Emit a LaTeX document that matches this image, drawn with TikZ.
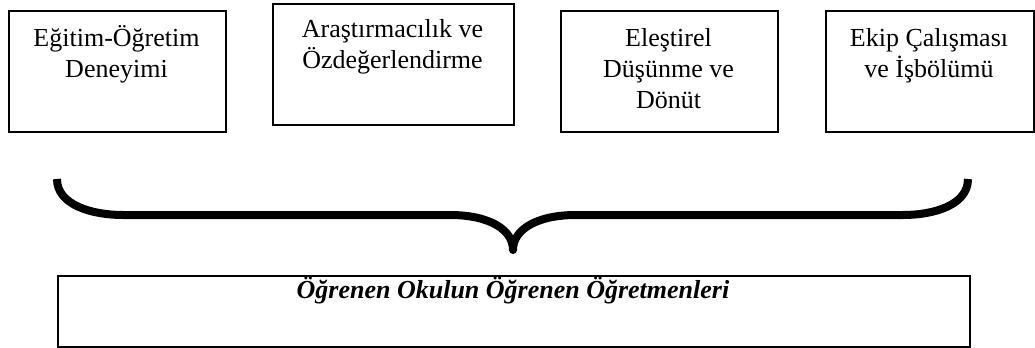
\documentclass[tikz,border=0pt]{standalone}
\usepackage{fontspec}
\setmainfont{Liberation Serif}
\begin{document}
\begin{tikzpicture}[x=0.75pt,y=-0.75pt,
  box/.style={draw, line width=1.5pt, inner sep=0pt, anchor=north west},
  lbl/.style={align=center, inner sep=0pt, anchor=north, font=\fontsize{19.5pt}{23.25pt}\selectfont},
  bracestroke/.style={line width=6pt, line join=round, line cap=butt}]
\useasboundingbox (0,0) rectangle (1035,347);
% top boxes
\node[box, minimum width=162.75pt, minimum height=90.75pt] (b1) at (8,10) {};
\node[box, minimum width=180.75pt, minimum height=90.75pt] (b2) at (272,3) {};
\node[box, minimum width=162.75pt, minimum height=90.75pt] (b3) at (560,10) {};
\node[box, minimum width=156pt, minimum height=90.75pt] (b4) at (825,10) {};
% texts
\node[lbl] (t1) at (116.5,19.3) {\rule{0pt}{20pt}Eğitim-Öğretim\\Deneyimi};
\node[lbl] (t2) at (392.5,10.3) {\rule{0pt}{20pt}Araştırmacılık ve\\Özdeğerlendirme};
\node[lbl] (t3) at (668.5,19.3) {\rule{0pt}{20pt}Eleştirel\\Düşünme ve\\Dönüt};
\node[lbl] (t4) at (929,19.3) {\rule{0pt}{20pt}Ekip Çalışması\\ve İşbölümü};
% brace
\draw[bracestroke] (57,179) .. controls (57,205) and (92,215) .. (123,215) -- (450,215)
  .. controls (490,215) and (513,230) .. (513,250)
  .. controls (513,230) and (536,215) .. (576,215) -- (903,215)
  .. controls (934,215) and (968,205) .. (968,179);
% bottom box
\node[box, minimum width=684pt, minimum height=53.25pt] (b5) at (57,275) {};
\node[anchor=base, inner sep=0pt, font=\fontsize{19.5pt}{23.25pt}\selectfont\bfseries\itshape] (t5) at (513,298) {Öğrenen Okulun Öğrenen Öğretmenleri};
\end{tikzpicture}
\end{document}
